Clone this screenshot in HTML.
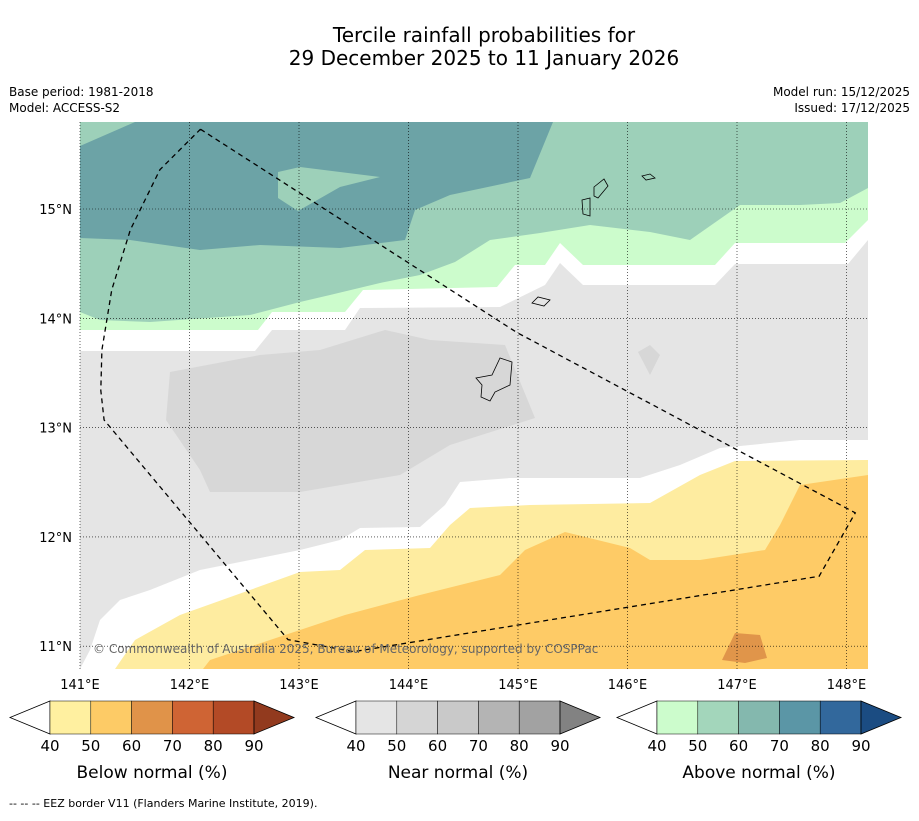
<!DOCTYPE html>
<html><head><meta charset="utf-8"><style>
body{margin:0;background:#fff;font-family:"Liberation Sans","DejaVu Sans",sans-serif}
svg text{font-family:"DejaVu Sans","Liberation Sans",sans-serif}
</style></head><body>
<svg id="chart" width="919" height="816" viewBox="0 0 919 816" xmlns="http://www.w3.org/2000/svg">
<text x="484" y="42" font-size="20" text-anchor="middle">Tercile rainfall probabilities for</text>
<text x="484" y="65" font-size="20" text-anchor="middle">29 December 2025 to 11 January 2026</text>
<text x="9" y="96" font-size="12">Base period: 1981-2018</text>
<text x="9" y="112" font-size="12">Model: ACCESS-S2</text>
<text x="910" y="96" font-size="12" text-anchor="end">Model run: 15/12/2025</text>
<text x="910" y="112" font-size="12" text-anchor="end">Issued: 17/12/2025</text>
<defs><clipPath id="mc"><rect x="80" y="122" width="788" height="547"/></clipPath></defs>
<g id="map" clip-path="url(#mc)"></g>
<g id="grid"></g>
<g id="cbars"></g>
<text x="93" y="653" font-size="12" fill="#666">© Commonwealth of Australia 2025, Bureau of Meteorology, supported by COSPPac</text>
<text x="9" y="807" font-size="11">--  --  -- EEZ border V11 (Flanders Marine Institute, 2019).</text>
</svg>
<script>
const lonTicks=[141,142,143,144,145,146,147,148];
const latTicks=[15,14,13,12,11];
const eezLon=[142.1,144.99,148.08,147.75,143.5,142.9,141.22,141.19,141.2,141.29,141.46,141.73,142.1];
const eezLat=[15.73,13.87,12.22,11.64,10.95,11.06,13.07,13.34,13.71,14.26,14.81,15.36,15.73];
const catTicks=[40,50,60,70,80,90];
const belowColors=['#fff0a0','#fdcb66','#e09349','#cf6434','#b34a26','#923a1e'];
const nearColors=['#e5e5e5','#d5d5d5','#c9c9c9','#b4b4b4','#a2a2a2','#828282'];
const aboveColors=['#ccfccc','#a3d6bb','#84b8ae','#5b96a6','#32689c','#1b4c82'];
const barTitles=['Below normal (%)','Near normal (%)','Above normal (%)'];
const x=lon=>80+(lon-141)*109.5;
const y=lat=>209-(lat-15)*109.3;
const NS='http://www.w3.org/2000/svg';
function mk(t,a,p){const e=document.createElementNS(NS,t);for(const k in a)e.setAttribute(k,a[k]);p.appendChild(e);return e;}
const map=document.getElementById('map');
function poly(pts,fill,name){const e=mk('polygon',{points:pts,fill:fill},map);

}
poly('80,122 868,122 868,669 80,669','#e5e5e5','near-40-region');
poly('80,122 868,122 868,240 848,264 735,264 715,285 583,285 560,263 545,285 500,307 360,308 345,330 272,330 255,351 80,351','#ffffff','white-gap-north');
poly('80,122 868,122 868,220 845,243 735,243 715,265 583,265 560,243 545,265 515,265 497,287 363,290 345,312 272,312 258,330 80,330','#ccfccc','above-40-region');
poly('80,122 868,122 868,188 840,203 800,205 740,205 690,240 650,232 590,225 540,233 490,240 455,262 420,275 380,283 330,295 300,302 250,315 150,322 100,320 80,312','#9dd0b9','above-50-region');
poly('80,146 135,122 553,122 530,178 450,195 415,210 405,240 340,248 260,245 200,250 130,240 80,238','#6ca3a6','above-60-region');
poly('278,172 300,167 380,177 340,187 298,211 278,198','#9dd0b9','above-50-patch');
poly('170,372 260,355 320,350 385,330 430,340 505,345 535,418 450,445 400,475 300,492 210,492 200,470 166,420','#d7d7d7','near-50-region');
poly('638,352 650,345 660,355 650,375','#d7d7d7','near-50-patch');
poly('80,669 90,650 100,620 120,600 150,590 200,570 240,562 300,550 340,540 360,528 420,527 445,505 460,482 510,478 640,478 680,465 720,448 800,440 868,440 868,669','#ffffff','white-gap-south');
poly('115,669 135,640 180,615 250,590 300,572 340,570 365,550 430,548 450,525 470,508 530,505 650,503 700,475 735,461 868,460 868,669','#feeca0','below-40-region');
poly('203,669 210,660 270,640 345,615 420,595 500,575 525,550 565,532 630,548 650,560 700,560 765,550 780,525 800,485 868,475 868,669','#fecb66','below-50-region');
poly('722,660 735,633 760,635 767,658 745,663','#e0954a','below-60-patch');
const isl=[['476,378 492,375 500,358 512,362 510,385 495,392 490,401 481,397 482,385','guam'],['532,303 538,297 550,300 544,306','rota'],['582,200 590,198 590,216 583,214','tinian'],['594,187 604,179 608,186 598,198 594,196','saipan'],['642,176 650,174 655,178 646,180','island-ne']];
isl.forEach(d=>{const e=mk('polygon',{points:d[0],fill:'none',stroke:'#000','stroke-width':0.8},map);

});
const g=document.getElementById('grid');
lonTicks.forEach(l=>{const X=x(l);
const ln=mk('line',{x1:X,x2:X,y1:122,y2:669,stroke:'#000','stroke-width':0.6,'stroke-dasharray':'1,2'},g);


const t=mk('text',{x:X,y:689,'font-size':13,'text-anchor':'middle'},g);t.textContent=l+'°E';

});
latTicks.forEach(l=>{const Y=y(l);
const ln=mk('line',{x1:80,x2:868,y1:Y,y2:Y,stroke:'#000','stroke-width':0.6,'stroke-dasharray':'1,2'},g);


const t=mk('text',{x:72,y:Y+5,'font-size':13,'text-anchor':'end'},g);t.textContent=l+'°N';

});
const eez=mk('polyline',{points:eezLon.map((l,i)=>x(l)+','+y(eezLat[i])).join(' '),fill:'none',stroke:'#000','stroke-width':1.3,'stroke-dasharray':'5,4'},g);


const cb=document.getElementById('cbars');
[belowColors,nearColors,aboveColors].forEach((cols,i)=>{
const x0=[10,316,617][i],bx=x0+40,bw=40.8,top=701,h=33,mid=717.5;
const grp=mk('g',{},cb);


mk('polygon',{points:`${x0},${mid} ${bx},${top} ${bx},${top+h}`,fill:'#fff',stroke:'#000','stroke-width':0.8},grp);
for(let k=0;k<5;k++)mk('rect',{x:bx+k*bw,y:top,width:bw,height:h,fill:cols[k],stroke:'#000','stroke-width':0.5},grp);
const ex=bx+5*bw;
mk('polygon',{points:`${ex},${top} ${ex+40},${mid} ${ex},${top+h}`,fill:cols[5],stroke:'#000','stroke-width':0.8},grp);
catTicks.forEach((v,k)=>{const t=mk('text',{x:bx+k*bw,y:751,'font-size':15,'text-anchor':'middle'},grp);t.textContent=v;});
const tt=mk('text',{x:bx+2.5*bw,y:778,'font-size':17,'text-anchor':'middle'},grp);tt.textContent=barTitles[i];
});
</script>
</body></html>
